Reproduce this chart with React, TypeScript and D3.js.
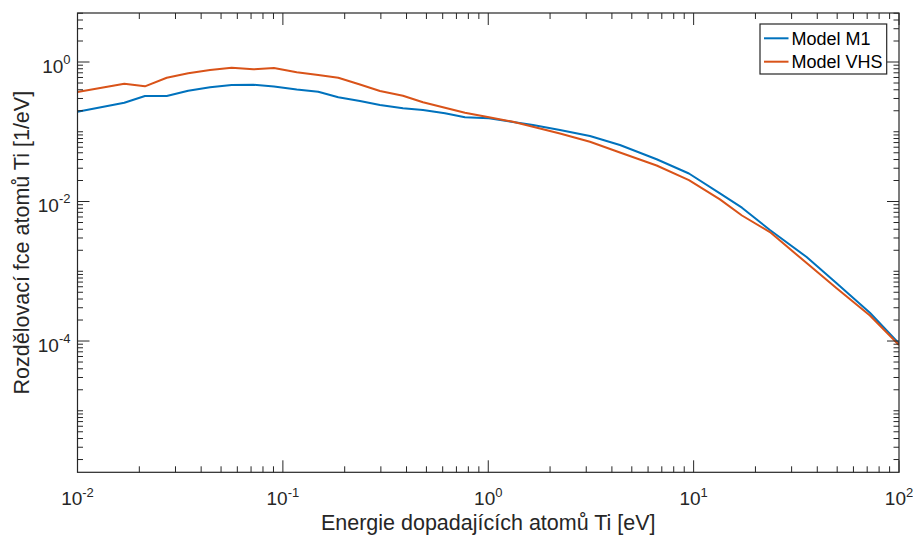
import React from "react";
import * as d3 from "d3";

// Energy of impacting Ti atoms [eV]
const energy = [0.01, 0.0169, 0.0213, 0.0272, 0.0346, 0.0442, 0.0563, 0.0718, 0.0905, 0.1168, 0.1487, 0.1861, 0.2373, 0.297, 0.3843, 0.481, 0.6154, 0.77, 1.008, 1.319, 1.651, 2.234, 3.127, 4.377, 6.605, 9.487, 13.43, 17.19, 23.52, 35.5, 49.69, 72.17, 100];
const modelM1 = [0.1939, 0.2609, 0.3255, 0.3255, 0.3878, 0.4338, 0.468, 0.4726, 0.4454, 0.4035, 0.3753, 0.3119, 0.276, 0.2417, 0.2169, 0.205, 0.1838, 0.1611, 0.1559, 0.1379, 0.1249, 0.106, 0.0869, 0.0646, 0.0403, 0.0252, 0.01311, 0.00815, 0.0039, 0.0016, 0.000672, 0.000254, 0.0000921];
const modelVHS = [0.3715, 0.4886, 0.4483, 0.5955, 0.6887, 0.768, 0.8284, 0.7861, 0.8203, 0.7118, 0.6512, 0.5955, 0.4757, 0.384, 0.3288, 0.2644, 0.2212, 0.1875, 0.1611, 0.1393, 0.1181, 0.0944, 0.072, 0.0504, 0.0328, 0.0203, 0.01075, 0.0063, 0.00365, 0.00131, 0.000569, 0.000232, 0.0000877];

const seriesNames = ["Model M1", "Model VHS"];
const seriesColors = ["#0072BD", "#D95319"];

const xMajorExp = [-2, -1, 0, 1, 2];
const yMajorExp = [0, -2, -4];

const xTitle = "Energie dopadajících atomů Ti [eV]";
const yTitle = "Rozdělovací fce atomů Ti [1/eV]";

const W = 913;
const H = 535;
const L = 77.5;
const R = 899;
const T = 13;
const B = 472.3;

const AX = "#262626";
const FONT = "'Liberation Sans', Arial, Helvetica, sans-serif";

export default function App() {
  const x = d3.scaleLog().domain([0.01, 100]).range([L, R]);
  const y = d3.scaleLog().domain([Math.pow(10, -5.882), Math.pow(10, 0.7025)]).range([B, T]);

  const line = d3
    .line<number>()
    .x((_, i) => x(energy[i]))
    .y((d) => y(d));

  const xTicksAll = x.ticks();
  const yTicksAll = y.ticks();
  const isMajorIn = (v: number, exps: number[]) =>
    exps.some((e) => Math.abs(Math.log10(v) - e) < 1e-6);

  const series = [modelM1, modelVHS];

  return (
    <svg
      width={W}
      height={H}
      style={{ position: "absolute", left: 0, top: 0, background: "#fff" }}
      fontFamily={FONT}
    >
      <rect x={0} y={0} width={W} height={H} fill="#fff" />
      <defs>
        <clipPath id="plotclip">
          <rect x={L} y={T} width={R - L} height={B - T} />
        </clipPath>
      </defs>
      <g clipPath="url(#plotclip)">
        {series.map((s, i) => (
          <path
            key={i}
            d={line(s) || ""}
            fill="none"
            stroke={seriesColors[i]}
            strokeWidth={2}
            strokeLinejoin="round"
          />
        ))}
      </g>

      {/* ticks */}
      <g stroke={AX} strokeWidth={1}>
        {xTicksAll.map((t, i) => {
          const px = x(t);
          const len = isMajorIn(t, xMajorExp) ? 12 : 6;
          return (
            <g key={"xt" + i}>
              <line x1={px} x2={px} y1={B} y2={B - len} />
              <line x1={px} x2={px} y1={T} y2={T + len} />
            </g>
          );
        })}
        {yTicksAll.map((t, i) => {
          const py = y(t);
          const len = isMajorIn(t, yMajorExp) ? 12 : 5.5;
          return (
            <g key={"yt" + i}>
              <line x1={L} x2={L + len} y1={py} y2={py} />
              <line x1={R} x2={R - len} y1={py} y2={py} />
            </g>
          );
        })}
      </g>

      {/* box */}
      <rect x={L} y={T} width={R - L} height={B - T} fill="none" stroke={AX} strokeWidth={1.2} />

      {/* x tick labels */}
      {xMajorExp.map((e) => (
        <text key={"xl" + e} x={x(Math.pow(10, e))} y={B + 32.7} textAnchor="middle" fill={AX} fontSize={19}>
          10
          <tspan fontSize={13} dy={-8.5}>
            {String(e)}
          </tspan>
        </text>
      ))}

      {/* y tick labels */}
      {yMajorExp.map((e) => (
        <text key={"yl" + e} x={70.5} y={y(Math.pow(10, e)) + 10.5} textAnchor="end" fill={AX} fontSize={19}>
          10
          <tspan fontSize={13} dy={-9}>
            {String(e)}
          </tspan>
        </text>
      ))}

      {/* axis titles */}
      <text x={(L + R) / 2} y={529.5} textAnchor="middle" fill={AX} fontSize={21.5}>
        {xTitle}
      </text>
      <text
        transform={`translate(28.5,${(T + B) / 2}) rotate(-90)`}
        textAnchor="middle"
        fill={AX}
        fontSize={21.5}
      >
        {yTitle}
      </text>

      {/* legend */}
      <g>
        <rect x={760} y={24} width={126.7} height={50} fill="#fff" stroke={AX} strokeWidth={1.2} />
        {seriesNames.map((n, i) => (
          <g key={n}>
            <line x1={764} x2={788.5} y1={38.3 + i * 23.4} y2={38.3 + i * 23.4} stroke={seriesColors[i]} strokeWidth={2} />
            <text x={791.5} y={38.3 + i * 23.4 + 6.5} fontSize={18} fill="#000">
              {n}
            </text>
          </g>
        ))}
      </g>
    </svg>
  );
}
